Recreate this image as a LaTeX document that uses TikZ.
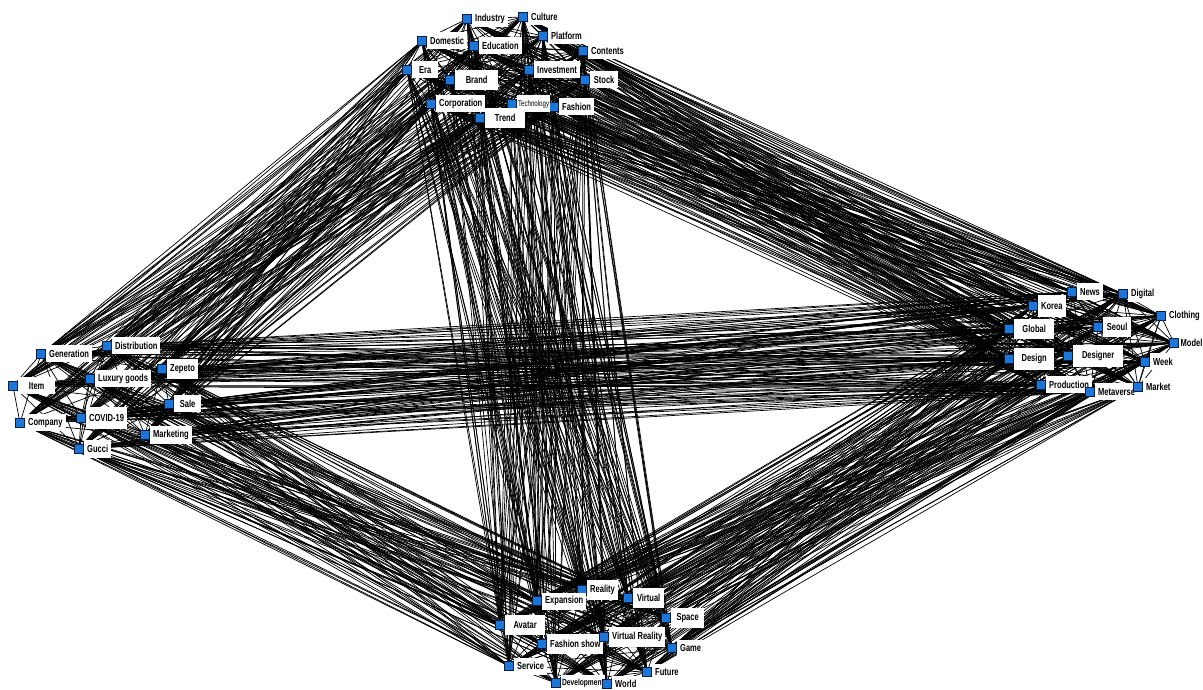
\documentclass[tikz,border=0pt]{standalone}
\usepackage{fontspec}
\setmainfont{Liberation Sans}[FakeStretch=0.74]
\usepackage{xcolor}
\usetikzlibrary{backgrounds}
\definecolor{kwblue}{RGB}{28,118,215}
\definecolor{kwedge}{RGB}{10,30,70}

\begin{document}
\begin{tikzpicture}[
    x=0.2mm, y=-0.2mm,
    kw/.style   ={draw=kwedge, fill=kwblue, line width=0.35pt, minimum size=1.8mm,
                  inner sep=0pt},
    lab/.style  ={fill=white, inner xsep=0.6mm, inner ysep=0pt, minimum height=3.4mm,
                  font=\fontsize{5.8}{6}\selectfont\bfseries, label distance=0pt},
    small/.style={font=\fontsize{4.7}{5}\selectfont},
    tight/.style={font=\fontsize{5.1}{6}\selectfont\bfseries, inner xsep=0.2mm},
    link/.style ={line width=0.4pt, black}
]
\useasboundingbox (0,0) rectangle (1203,690);

% =================== top group ===================
\node[kw, label={[lab]east:Industry}]   (ind) at (467,19) {};
\node[kw, label={[lab]east:Culture}]    (cul) at (523,17) {};
\node[kw, label={[lab]east:Domestic}]   (dom) at (422,41) {};
\node[kw, label={[lab, minimum width=8.2mm]east:Education}]  (edu) at (474,46) {};
\node[kw, label={[lab]east:Platform}]   (pla) at (543,36) {};
\node[kw, label={[lab]east:Contents}]   (cnt) at (583,51) {};
\node[kw, label={[lab, minimum width=5.2mm]east:Era}]        (era) at (407,70) {};
\node[kw, label={[lab, minimum width=8.6mm, minimum height=4mm]east:Brand}] (bra) at (450,80) {};
\node[kw, label={[lab, minimum width=8.2mm]east:Investment}] (inv) at (529,70) {};
\node[kw, label={[lab, minimum width=5.6mm]east:Stock}]      (sto) at (585,80) {};
\node[kw, label={[lab, minimum width=8mm]east:Corporation}]  (cor) at (431,104) {};
\node[kw, label={[lab, minimum width=6.6mm]east:Fashion}]    (fas) at (554,107) {};
\node[kw, label={[lab, small, inner xsep=0.2mm]east:Technology}] (tec) at (512,104) {};
\node[kw, label={[lab, minimum width=8mm, minimum height=4mm]east:Trend}] (tre) at (480,118) {};

% =================== left group ===================
\node[kw, label={[lab, minimum width=9mm]east:Generation}]   (gen) at (41,354) {};
\node[kw, label={[lab, minimum width=8.6mm]east:Distribution}] (dis) at (107,346) {};
\node[kw, label={[lab, minimum width=7.4mm]east:Item}]       (itm) at (13,386) {};
\node[kw, label={[lab]east:Luxury goods}] (lux) at (90,379) {};
\node[kw, label={[lab, minimum width=6mm, minimum height=4mm]east:Zepeto}] (zep) at (162,369) {};
\node[kw, label={[lab, minimum width=5.4mm]east:Sale}]       (sal) at (169,404) {};
\node[kw, label={[lab]east:Company}]    (com) at (20,423) {};
\node[kw, label={[lab, minimum width=7.6mm, minimum height=4.4mm]east:COVID-19}] (cov) at (81,418) {};
\node[kw, label={[lab]east:Marketing}]  (mkt) at (145,435) {};
\node[kw, label={[lab]east:Gucci}]      (guc) at (79,449) {};

% =================== right group ===================
\node[kw, label={[lab, minimum width=5mm]east:News}]         (nws) at (1072,292) {};
\node[kw, label={[lab]east:Digital}]    (dig) at (1123,294) {};
\node[kw, label={[lab, minimum width=5.4mm, minimum height=4.4mm]east:Korea}] (kor) at (1033,306) {};
\node[kw, label={[lab]east:Clothing}]   (clo) at (1161,316) {};
\node[kw, label={[lab, minimum width=8mm, minimum height=4mm]east:Global}] (glo) at (1009,329) {};
\node[kw, label={[lab, minimum width=5.6mm, minimum height=4mm]east:Seoul}] (seo) at (1098,327) {};
\node[kw, label={[lab, inner xsep=0.3mm]east:Model}]      (mod) at (1174,343) {};
\node[kw, label={[lab, minimum width=8mm, minimum height=4.4mm]east:Design}] (des) at (1009,359) {};
\node[kw, label={[lab, minimum width=10mm, minimum height=4.4mm]east:Designer}] (dsr) at (1068,356) {};
\node[kw, label={[lab]east:Week}]       (wee) at (1145,362) {};
\node[kw, label={[lab]east:Production}] (pro) at (1041,385) {};
\node[kw, label={[lab]east:Metaverse}]  (met) at (1090,392) {};
\node[kw, label={[lab]east:Market}]     (mar) at (1138,387) {};

% =================== bottom group ===================
\node[kw, label={[lab, minimum width=5.6mm, minimum height=4mm]east:Reality}] (rea) at (582,590) {};
\node[kw, label={[lab, minimum width=6.2mm, minimum height=4mm]east:Virtual}] (vir) at (628,598) {};
\node[kw, label={[lab]east:Expansion}]  (exp) at (537,601) {};
\node[kw, label={[lab, minimum width=6.6mm, minimum height=4mm]east:Space}] (spa) at (666,618) {};
\node[kw, label={[lab, minimum width=8mm, minimum height=4mm]east:Avatar}] (ava) at (500,625) {};
\node[kw, label={[lab, minimum height=4mm]east:Fashion show}] (fsh) at (542,644) {};
\node[kw, label={[lab, minimum height=4mm]east:Virtual Reality}] (vre) at (604,637) {};
\node[kw, label={[lab]east:Game}]       (gam) at (672,648) {};
\node[kw, label={[lab]east:Service}]    (ser) at (509,666) {};
\node[kw, label={[lab]east:Future}]     (fut) at (647,672) {};
\node[kw, label={[lab, tight]east:Development}] (dev) at (556,683) {};
\node[kw, label={[lab]east:World}]      (wor) at (607,684) {};

% --- links ---
\def\topset{ind,cul,dom,edu,pla,cnt,era,bra,inv,sto,cor,tec,fas,tre}
\def\leftset{gen,dis,itm,lux,zep,sal,com,cov,mkt,guc}
\def\rightset{nws,dig,kor,clo,glo,seo,mod,des,dsr,wee,pro,mar,met}
\def\botset{rea,vir,exp,spa,ava,fsh,vre,gam,ser,fut,dev,wor}

\begin{scope}[on background layer]
% between groups
\foreach \a in \topset {
  \foreach \b in \leftset  {\draw[link] (\a) -- (\b);}
  \foreach \b in \rightset {\draw[link] (\a) -- (\b);}
  \foreach \b in \botset   {\draw[link] (\a) -- (\b);}
}
\foreach \a in \leftset {
  \foreach \b in \rightset {\draw[link] (\a) -- (\b);}
  \foreach \b in \botset   {\draw[link] (\a) -- (\b);}
}
\foreach \a in \rightset {
  \foreach \b in \botset   {\draw[link] (\a) -- (\b);}
}
% inside groups
\foreach \grp in {\topset,\leftset,\rightset,\botset} {
  \edef\curset{\grp}
  \foreach \a [count=\i] in \curset {
    \foreach \b [count=\j] in \curset {
      \ifnum\j>\i \draw[link] (\a) -- (\b); \fi
    }
  }
}
\end{scope}

\end{tikzpicture}
\end{document}
